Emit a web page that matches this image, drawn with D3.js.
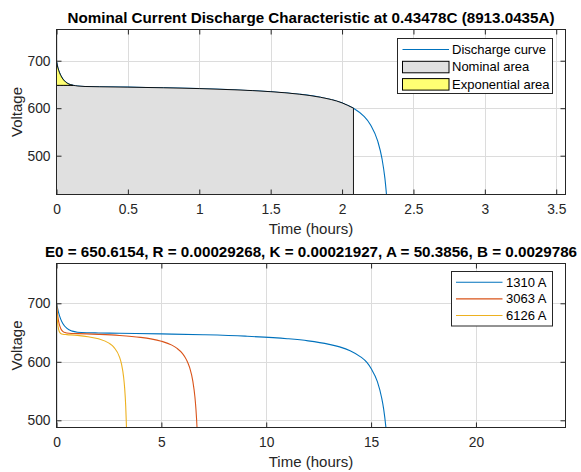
<!DOCTYPE html>
<html>
<head>
<meta charset="utf-8">
<script src="https://d3js.org/d3.v7.min.js"></script>
<style>
  body { margin: 0; background: #fff; }
  svg { display: block; font-family: "Liberation Sans", Arial, sans-serif; }
</style>
</head>
<body>
<div id="chart-area"></div>
<script>
// ---- data ----
// top panel: nominal current discharge (hours, volts)
const nomTime = [0, 0.01, 0.02, 0.03, 0.05, 0.075, 0.1, 0.115, 0.15, 0.2, 0.3, 0.5, 0.75, 1.0, 1.25, 1.5, 1.7, 1.85, 2.0, 2.08, 2.15, 2.2, 2.25, 2.28, 2.3, 2.315]
const nomVolt = [698.4, 684.7, 675.6, 668.7, 659.3, 652.7, 649.3, 648.1, 646.6, 645.7, 645.1, 644.3, 643.0, 641.3, 638.7, 634.8, 629.5, 622.9, 611.2, 600.0, 583.9, 564.7, 530.5, 493.3, 452.7, 405.5]
const expZone = [0.115, 648.1]   // end of exponential zone (h, V)
const nomZone = [2.08, 600.0]    // end of nominal zone (h, V)
const topLegend = ["Discharge curve", "Nominal area", "Exponential area"]

// bottom panel: discharge at three currents
const currents = ["1310 A", "3063 A", "6126 A"]
const time1310 = [0, 0.1, 0.2, 0.3, 0.5, 0.75, 1, 1.5, 2, 3, 5, 7, 9, 11, 12, 13, 13.5, 14, 14.5, 14.8, 15, 15.3, 15.5, 15.6, 15.7, 15.75]
const volt1310 = [700.3, 684.0, 673.0, 665.5, 657.0, 652.4, 650.6, 649.6, 649.3, 648.8, 647.7, 646.2, 643.8, 639.5, 635.8, 629.8, 625.5, 619.0, 608.5, 599.0, 588.5, 566.0, 539.0, 519.0, 490.0, 471.0]
const time3063 = [0, 0.05, 0.1, 0.2, 0.3, 0.4, 0.6, 1, 2, 3, 4, 4.5, 5, 5.5, 5.75, 6.0, 6.2, 6.35, 6.5, 6.6, 6.65, 6.7, 6.72]
const volt3063 = [700.1, 680.9, 669.2, 657.0, 652.1, 650.0, 648.8, 648.2, 646.9, 645.0, 641.8, 639.2, 635.2, 628.5, 622.9, 614.4, 603.3, 589.9, 567.0, 539.8, 518.6, 488.0, 471.5]
const time6126 = [0, 0.02, 0.05, 0.1, 0.15, 0.2, 0.3, 0.5, 1, 1.5, 2, 2.5, 2.75, 3.0, 3.1, 3.2, 3.25, 3.3, 3.33, 3.34]
const volt6126 = [699.2, 682.4, 667.6, 655.4, 650.5, 648.4, 647.1, 646.5, 645.1, 642.9, 639.3, 631.9, 624.3, 608.5, 596.0, 573.9, 555.0, 524.4, 494.8, 481.6]

// ticks
const xTicksTop = [0, 0.5, 1, 1.5, 2, 2.5, 3, 3.5]
const xTicksBottom = [0, 5, 10, 15, 20]
const yTicks = [500, 600, 700]

const titleTop = "Nominal Current Discharge Characteristic at 0.43478C (8913.0435A)"
const titleBottom = "E0 = 650.6154, R = 0.00029268, K = 0.00021927, A = 50.3856, B = 0.0029786"

const colors = ["#0072BD", "#D95319", "#EDB120"]
const axisColor = "#262626"

const svg = d3.select("#chart-area").append("svg")
    .attr("width", 581)
    .attr("height", 472)

const zip = (ts, vs) => ts.map((t, i) => ({ t: t, v: vs[i] }))

// draws grid, box, ticks, labels for one axes and returns its scales
function makePanel(id, top, bottom, xMax, yDomain, xTicks, title) {
    const left = 56.5, right = 565.5
    const x = d3.scaleLinear().domain([0, xMax]).range([left, right])
    const y = d3.scaleLinear().domain(yDomain).range([bottom, top])
    const g = svg.append("g")

    svg.append("clipPath").attr("id", id)
        .append("rect").attr("x", left).attr("y", top)
        .attr("width", right - left).attr("height", bottom - top)

    // grid
    g.selectAll(".gx").data(xTicks).enter().append("line")
        .attr("x1", d => Math.round(x(d)) + 0.5).attr("x2", d => Math.round(x(d)) + 0.5)
        .attr("y1", top).attr("y2", bottom)
        .attr("stroke", "#dcdcdc")
    g.selectAll(".gy").data(yTicks).enter().append("line")
        .attr("y1", d => Math.round(y(d)) + 0.5).attr("y2", d => Math.round(y(d)) + 0.5)
        .attr("x1", left).attr("x2", right)
        .attr("stroke", "#dcdcdc")

    const plot = svg.append("g").attr("clip-path", "url(#" + id + ")")
    const frame = svg.append("g")

    const styleAxis = sel => {
        sel.attr("font-family", null).attr("font-size", null)
        sel.select(".domain").remove()
        sel.selectAll("line").attr("stroke", axisColor)
        sel.selectAll("text").attr("fill", axisColor).style("font-size", "13.8px")
    }
    frame.append("g").attr("transform", `translate(0,${bottom})`)
        .call(d3.axisBottom(x).tickValues(xTicks).tickSizeInner(-5).tickSizeOuter(0).tickPadding(9.3).tickFormat(d3.format("")))
        .call(styleAxis)
    frame.append("g").attr("transform", `translate(0,${top})`)
        .call(d3.axisTop(x).tickValues(xTicks).tickSizeInner(-5).tickSizeOuter(0).tickFormat(""))
        .call(styleAxis)
    frame.append("g").attr("transform", `translate(${left},0)`)
        .call(d3.axisLeft(y).tickValues(yTicks).tickSizeInner(-5).tickSizeOuter(0).tickPadding(6))
        .call(styleAxis)
    frame.append("g").attr("transform", `translate(${right},0)`)
        .call(d3.axisRight(y).tickValues(yTicks).tickSizeInner(-5).tickSizeOuter(0).tickFormat(""))
        .call(styleAxis)

    frame.append("rect")
        .attr("x", left).attr("y", top)
        .attr("width", right - left).attr("height", bottom - top)
        .attr("fill", "none").attr("stroke", axisColor)

    // title and labels
    frame.append("text")
        .attr("x", (left + right) / 2).attr("y", top - 6.2)
        .attr("text-anchor", "middle")
        .style("font-size", "15.2px").style("font-weight", "bold")
        .text(title)
    frame.append("text")
        .attr("x", (left + right) / 2).attr("y", bottom + 39.5)
        .attr("text-anchor", "middle").attr("fill", axisColor)
        .style("font-size", "15px")
        .text("Time (hours)")
    frame.append("text")
        .attr("transform", `translate(21.5,${(top + bottom) / 2}) rotate(-90)`)
        .attr("text-anchor", "middle").attr("fill", axisColor)
        .style("font-size", "15px")
        .text("Voltage")

    return { x, y, plot, frame }
}

// ---- top panel ----
const p1 = makePanel("clipTop", 29.5, 194.5, 3.565, [418.3, 765.7], xTicksTop, titleTop)
const nomData = zip(nomTime, nomVolt)

const line1 = d3.line().x(d => p1.x(d.t)).y(d => p1.y(d.v)).curve(d3.curveMonotoneX)
p1.plot.append("path").datum(nomData)
    .attr("d", line1)
    .attr("fill", "none").attr("stroke", colors[0]).attr("stroke-width", 1.1)

// nominal area: flat at exponential voltage, then along the curve
const nomAreaData = [{ t: 0, v: expZone[1] }]
    .concat(nomData.filter(d => d.t >= expZone[0] && d.t <= nomZone[0]))
const nomArea = d3.area()
    .x(d => p1.x(d.t)).y0(p1.y(380)).y1(d => p1.y(d.v))
    .curve(d3.curveMonotoneX)
p1.plot.append("path").datum(nomAreaData)
    .attr("d", nomArea)
    .attr("fill", "#e0e0e0").attr("stroke", "#000").attr("stroke-width", 0.9)

// exponential area: between the curve and the exponential voltage
const expAreaData = nomData.filter(d => d.t <= expZone[0])
const expArea = d3.area()
    .x(d => p1.x(d.t)).y0(p1.y(expZone[1])).y1(d => p1.y(d.v))
    .curve(d3.curveMonotoneX)
p1.plot.append("path").datum(expAreaData)
    .attr("d", expArea)
    .attr("fill", "#ffff73").attr("stroke", "#000").attr("stroke-width", 0.9)

// top legend
const lg1 = p1.frame.append("g")
lg1.append("rect").attr("x", 397.5).attr("y", 38.5).attr("width", 155).attr("height", 55)
    .attr("fill", "#fff").attr("stroke", axisColor)
topLegend.forEach((name, i) => {
    const ry = 49.5 + i * 17.3
    if (i === 0) {
        lg1.append("line").attr("x1", 402.5).attr("x2", 449).attr("y1", ry).attr("y2", ry)
            .attr("stroke", colors[0]).attr("stroke-width", 1.1)
    } else {
        lg1.append("rect").attr("x", 402.5).attr("y", ry - 5.5).attr("width", 46.5).attr("height", 11.5)
            .attr("fill", i === 1 ? "#e0e0e0" : "#ffff73").attr("stroke", "#000")
    }
    lg1.append("text").attr("x", 452).attr("y", ry).attr("dy", "0.35em")
        .style("font-size", "13px").attr("fill", "#000").text(name)
})

// ---- bottom panel ----
const p2 = makePanel("clipBottom", 263.5, 427.5, 24.27, [487.7, 768], xTicksBottom, titleBottom)
const series = [zip(time1310, volt1310), zip(time3063, volt3063), zip(time6126, volt6126)]
const line2 = d3.line().x(d => p2.x(d.t)).y(d => p2.y(d.v)).curve(d3.curveMonotoneX)

p2.plot.selectAll(".series").data(series).enter().append("path")
    .attr("d", line2)
    .attr("fill", "none")
    .attr("stroke", (d, i) => colors[i])
    .attr("stroke-width", 1.1)

const lg2 = p2.frame.append("g")
lg2.append("rect").attr("x", 451.5).attr("y", 271.5).attr("width", 101).attr("height", 54.5)
    .attr("fill", "#fff").attr("stroke", axisColor)
currents.forEach((name, i) => {
    const ry = 282.3 + i * 16.6
    lg2.append("line").attr("x1", 456).attr("x2", 502.5).attr("y1", ry).attr("y2", ry)
        .attr("stroke", colors[i]).attr("stroke-width", 1.1)
    lg2.append("text").attr("x", 506).attr("y", ry).attr("dy", "0.35em")
        .style("font-size", "13px").attr("fill", "#000").text(name)
})
</script>
</body>
</html>
